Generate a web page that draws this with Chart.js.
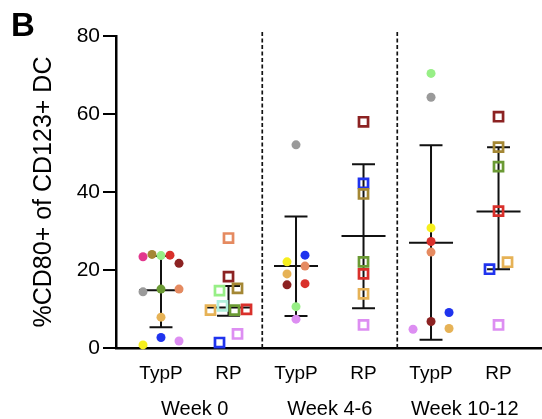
<!DOCTYPE html>
<html>
<head>
<meta charset="utf-8">
<script src="https://cdn.jsdelivr.net/npm/chart.js@4.4.1/dist/chart.umd.min.js"></script>
<style>
  html, body { margin: 0; padding: 0; background: #fff; overflow: hidden; }
  canvas { display: block; }
</style>
</head>
<body>
<canvas id="cd80Chart" width="542" height="419"></canvas>
<script>
// categories and tick labels
const groupLabels = ["TypP", "RP", "TypP", "RP", "TypP", "RP"];
const weekLabels = ["Week 0", "Week 4-6", "Week 10-12"];
const yTicks = [0, 20, 40, 60, 80];
const weekBreaks = [2.5, 4.5];

// participants (left to right inside a row) and % CD80+ values
const typP0Who = ["pink", "olive", "lime", "red", "maroon", "gray", "green", "salmon", "tan", "yellow", "blue", "lilac"];
const typP0Val = [23.4, 24.0, 23.7, 23.8, 21.7, 14.4, 15.1, 15.1, 7.9, 0.8, 2.7, 1.8];
const rp0Who = ["salmon", "maroon", "lime", "olive", "tan", "mint", "green", "red", "blue", "lilac"];
const rp0Val = [28.2, 18.3, 14.7, 15.3, 9.7, 10.8, 9.7, 9.9, 1.4, 3.6];
const typP46Who = ["gray", "yellow", "blue", "tan", "salmon", "maroon", "red", "lime", "lilac"];
const typP46Val = [52.1, 22.1, 23.8, 19.0, 21.0, 16.2, 16.5, 10.6, 7.4];
const rp46Who = ["maroon", "blue", "olive", "green", "red", "tan", "lilac"];
const rp46Val = [58.0, 42.2, 39.5, 22.1, 19.0, 13.9, 5.9];
const typP1012Who = ["lime", "gray", "yellow", "red", "salmon", "blue", "lilac", "maroon", "tan"];
const typP1012Val = [70.4, 64.3, 30.8, 27.3, 24.6, 9.1, 4.8, 6.8, 5.0];
const rp1012Who = ["maroon", "olive", "green", "red", "blue", "tan", "lilac"];
const rp1012Val = [59.3, 51.5, 46.5, 35.1, 20.2, 22.0, 5.9];

// median with interquartile range, per group
const medians = [14.8, 10.4, 21.0, 28.7, 27.0, 35.0];
const lowerQ = [5.3, 8.3, 8.2, 10.2, 2.1, 20.2];
const upperQ = [23.6, 15.9, 33.7, 47.1, 52.0, 51.5];

const colors = {
    pink: "#e2378d", olive: "#a48734", lime: "#97ef86", red: "#d9302b",
    maroon: "#8c2222", gray: "#9a9a9a", green: "#6b9a34", salmon: "#e58a60",
    tan: "#e6b256", blue: "#1f33ee", yellow: "#f7ef1c", lilac: "#dd8ef2",
    mint: "#b0f0dc"
};

const groups = [
    { who: typP0Who, val: typP0Val, square: false },
    { who: rp0Who, val: rp0Val, square: true },
    { who: typP46Who, val: typP46Val, square: false },
    { who: rp46Who, val: rp46Val, square: true },
    { who: typP1012Who, val: typP1012Val, square: false },
    { who: rp1012Who, val: rp1012Val, square: true }
];

const X_MIN = 1 / 3, X_MAX = 6.644;
const X_PX = 67.5, Y_PX = 3.9; // approx px per unit, only for spreading the dots

// simple column scatter: rows of close values are spread sideways
function swarm(values) {
    const order = values.map((v, i) => i).sort((a, b) => values[a] - values[b]);
    const rows = [];
    order.forEach(i => {
        const row = rows[rows.length - 1];
        if (row && values[i] - values[row[0]] <= 2.5) row.push(i);
        else rows.push([i]);
    });
    const offs = [];
    const placed = [];
    rows.forEach(row => {
        row.sort((a, b) => a - b);
        const n = row.length;
        if (n === 1) {
            const i = row[0];
            const dx = [0, 18, -18, 36, -36].find(d => placed.every(j =>
                Math.hypot(d - offs[j], (values[i] - values[j]) * Y_PX) >= 9.5));
            offs[i] = dx === undefined ? 0 : dx;
        } else {
            const gap = Math.min(18, 36 / (n - 1));
            row.forEach((i, k) => { offs[i] = (k - (n - 1) / 2) * gap; });
        }
        row.forEach(i => placed.push(i));
    });
    return offs;
}

const datasets = [];

groups.forEach((g, gi) => {
    const cx = gi + 1;
    const offs = swarm(g.val);
    datasets.push({
        type: 'scatter',
        data: g.val.map((v, i) => ({ x: cx + offs[i] / X_PX, y: v })),
        pointStyle: g.square ? 'rect' : 'circle',
        pointRadius: g.square ? 6.4 : 4.5,
        pointBackgroundColor: g.square ? 'rgba(0,0,0,0)' : g.who.map(w => colors[w]),
        pointBorderColor: g.who.map(w => colors[w]),
        pointBorderWidth: g.square ? 2.7 : 0,
        clip: false,
        order: 1
    });

    const m = medians[gi], lo = lowerQ[gi], hi = upperQ[gi];
    const cap = 0.17, half = 0.326;
    datasets.push({
        type: 'line',
        data: [
            { x: cx, y: lo }, { x: cx, y: hi }, { x: cx, y: null },
            { x: cx - cap, y: lo }, { x: cx + cap, y: lo }, { x: cx, y: null },
            { x: cx - cap, y: hi }, { x: cx + cap, y: hi }, { x: cx, y: null },
            { x: cx - half, y: m }, { x: cx + half, y: m }
        ],
        showLine: true,
        borderColor: '#111',
        borderWidth: 2,
        pointRadius: 0,
        fill: false,
        spanGaps: false,
        order: 2
    });
});

// dashed separators between weeks
datasets.push({
    type: 'line',
    data: [
        { x: weekBreaks[0], y: 0 }, { x: weekBreaks[0], y: 81.5 }, { x: weekBreaks[0], y: null },
        { x: weekBreaks[1], y: 0 }, { x: weekBreaks[1], y: 81.5 }
    ],
    showLine: true,
    borderColor: '#111',
    borderWidth: 1.7,
    borderDash: [4, 2.5],
    pointRadius: 0,
    fill: false,
    spanGaps: false,
    clip: false,
    order: 3
});

const panelLetter = {
    id: 'panelLetter',
    afterDraw(chart) {
        const c = chart.ctx;
        c.save();
        c.font = 'bold 33px "Liberation Sans", Arial, sans-serif';
        c.fillStyle = '#000';
        c.textBaseline = 'alphabetic';
        c.fillText('B', 11, 36);
        c.restore();
    }
};

// keep the bottom axes from reserving room for overflowing labels
function fitBottom(h) {
    return s => {
        s.height = h;
        s.paddingLeft = 0;
        s.paddingRight = 0;
    };
}

Chart.defaults.font.family = '"Liberation Sans", Arial, sans-serif';
Chart.defaults.color = '#000';

const ctx = document.getElementById("cd80Chart").getContext("2d");
const cd80Chart = new Chart(ctx, {
    type: 'scatter',
    data: { datasets },
    options: {
        responsive: false,
        devicePixelRatio: 1,
        animation: false,
        events: [],
        layout: { autoPadding: false, padding: { top: 36, right: 0, bottom: 0, left: 0 } },
        plugins: {
            legend: { display: false },
            tooltip: { enabled: false }
        },
        scales: {
            x: {
                type: 'linear',
                position: 'bottom',
                weight: 0,
                min: X_MIN,
                max: X_MAX,
                afterBuildTicks: s => { s.ticks = groupLabels.map((_, i) => ({ value: i + 1 })); },
                afterFit: fitBottom(40),
                grid: { display: false, drawTicks: false },
                border: { color: '#000', width: 2.5 },
                ticks: {
                    padding: 14,
                    autoSkip: false,
                    maxRotation: 0,
                    font: { size: 19 },
                    callback: v => groupLabels[Math.round(v) - 1]
                }
            },
            x2: {
                type: 'linear',
                position: 'bottom',
                weight: 1,
                min: X_MIN,
                max: X_MAX,
                afterBuildTicks: s => { s.ticks = weekLabels.map((_, i) => ({ value: 2 * i + 1.5 })); },
                afterFit: fitBottom(31),
                grid: { display: false, drawTicks: false },
                border: { display: false },
                ticks: {
                    padding: 9,
                    autoSkip: false,
                    maxRotation: 0,
                    font: { size: 20 },
                    callback: v => weekLabels[Math.round((v - 1.5) / 2)]
                }
            },
            y: {
                min: 0,
                max: 80,
                afterBuildTicks: s => { s.ticks = yTicks.map(v => ({ value: v })); },
                afterFit: s => { s.width = 116; },
                grid: { drawOnChartArea: false, drawTicks: true, tickLength: 13, color: '#000', lineWidth: 2 },
                border: { color: '#000', width: 2.5 },
                ticks: { padding: 3, font: { size: 21 } },
                title: {
                    display: true,
                    text: '%CD80+ of CD123+ DC',
                    font: { size: 25 },
                    padding: { top: 29, bottom: 0 }
                }
            }
        }
    },
    plugins: [panelLetter]
});
</script>
</body>
</html>
